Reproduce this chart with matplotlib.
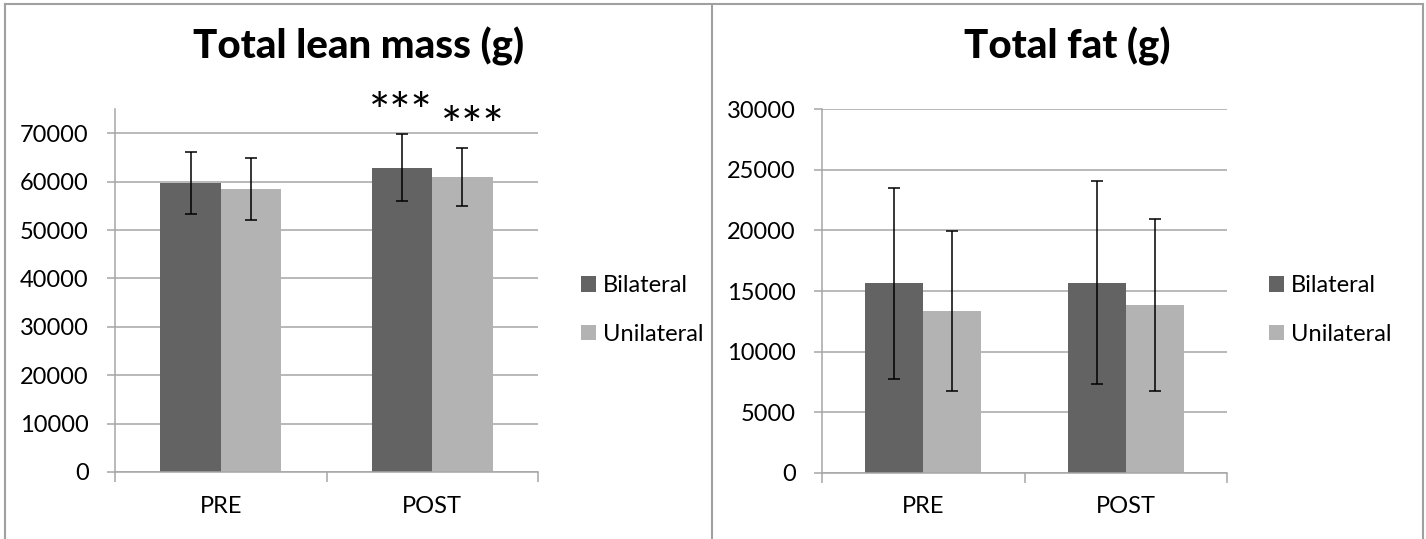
import numpy as np
import matplotlib as mpl
mpl.use('Agg')
import matplotlib.pyplot as plt
from matplotlib.lines import Line2D

plt.rcParams['font.family'] = ['Lato', 'DejaVu Sans']

# group means and SD (g)
groups = ['PRE', 'POST']
series = ['Bilateral', 'Unilateral']

lean_bilateral = [59700, 62900]
lean_bilateral_sd = [6400, 6900]
lean_unilateral = [58500, 60900]
lean_unilateral_sd = [6450, 6000]
lean_stars = ['***', '***']

fat_bilateral = [15650, 15700]
fat_bilateral_sd = [7880, 8400]
fat_unilateral = [13340, 13870]
fat_unilateral_sd = [6620, 7100]

dark = '#636363'
light = '#b3b3b3'
grid_col = '#a6a6a6'
frame_col = '#a0a0a0'

W, H = 1426, 539
fig = plt.figure(figsize=(W / 100, H / 100), dpi=100)


def px_axes(x0, x1, y_top, y_bot):
    return fig.add_axes([x0 / W, (H - y_bot) / H, (x1 - x0) / W, (y_bot - y_top) / H])


def bar_panel(ax, bil, bil_sd, uni, uni_sd, ymax, ystep, ylim_top):
    x = np.arange(len(groups)) + 0.5
    bw = 0.286
    ax.bar(x - bw / 2, bil, bw, color=dark, label=series[0], zorder=2)
    ax.bar(x + bw / 2, uni, bw, color=light, label=series[1], zorder=2)
    ax.errorbar(x - bw / 2, bil, yerr=bil_sd, fmt='none', ecolor='black',
                elinewidth=1.1, capsize=4.5, capthick=1.1, zorder=3)
    ax.errorbar(x + bw / 2, uni, yerr=uni_sd, fmt='none', ecolor='black',
                elinewidth=1.1, capsize=4.5, capthick=1.1, zorder=3)
    ax.set_xlim(0, len(groups))
    ax.set_ylim(0, ylim_top)
    ax.set_yticks(np.arange(0, ymax + 1, ystep))
    ax.set_xticks(np.arange(len(groups) + 1))
    ax.set_xticklabels([])
    ax.set_xticks(x, minor=True)
    ax.set_xticklabels(groups, minor=True)
    ax.tick_params(axis='x', which='major', direction='out', length=7,
                   width=1.1, color=grid_col)
    ax.tick_params(axis='x', which='minor', length=0, pad=17, labelsize=17)
    ax.tick_params(axis='y', direction='out', length=6, width=1.1,
                   color=grid_col, pad=13, labelsize=17)
    ax.yaxis.grid(True, color=grid_col, lw=1.1, zorder=0)
    ax.set_axisbelow(True)
    for s in ['top', 'right']:
        ax.spines[s].set_visible(False)
    for s in ['left', 'bottom']:
        ax.spines[s].set_color(grid_col)
        ax.spines[s].set_linewidth(1.1)


ax1 = px_axes(115, 538, 109, 472)
bar_panel(ax1, lean_bilateral, lean_bilateral_sd, lean_unilateral,
          lean_unilateral_sd, 70000, 10000, 75000)

ax2 = px_axes(822, 1227, 109.3, 472.7)
bar_panel(ax2, fat_bilateral, fat_bilateral_sd, fat_unilateral,
          fat_unilateral_sd, 30000, 5000, 30000)

# significance markers over the POST bars
star_x = [1.35, 1.69]
star_y = [lean_bilateral[1] + lean_bilateral_sd[1] + 1150,
          lean_unilateral[1] + lean_unilateral_sd[1] + 1150]
for sx, sy, st in zip(star_x, star_y, lean_stars):
    ax1.text(sx, sy, st, ha='center', va='baseline', fontsize=36,
             clip_on=False)

fig.text(359 / W, (H - 58) / H, 'Total lean mass (g)', ha='center',
         va='baseline', fontsize=29, fontweight='black')
fig.text(1067.5 / W, (H - 58) / H, 'Total fat (g)', ha='center',
         va='baseline', fontsize=29, fontweight='black')

for ax, lx in [(ax1, 581), (ax2, 1269)]:
    ax.legend(loc='center left', bbox_to_anchor=(lx / W, (H - 310) / H),
              bbox_transform=fig.transFigure, frameon=False, fontsize=17,
              handlelength=0.62, handleheight=0.62, handletextpad=0.3,
              labelspacing=1.15, borderpad=0, borderaxespad=0)

# chart frames
for xs, ys in [([5, 1423], [3.5, 3.5]), ([5, 5], [3.5, H]),
               ([712, 712], [3.5, H]), ([1423, 1423], [3.5, H])]:
    fig.add_artist(Line2D([v / W for v in xs], [(H - v) / H for v in ys],
                          color=frame_col, lw=1.5))

plt.savefig('out.png', dpi=100)
